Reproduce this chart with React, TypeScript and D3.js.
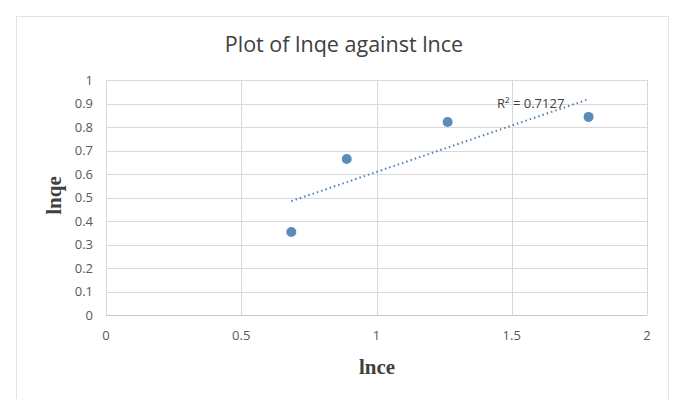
import React from "react";
import * as d3 from "d3";

const lnce: number[] = [0.685, 0.89, 1.263, 1.784];
const lnqe: number[] = [0.353, 0.664, 0.821, 0.843];
const xTicks: number[] = [0, 0.5, 1, 1.5, 2];
const yTicks: number[] = [0, 0.1, 0.2, 0.3, 0.4, 0.5, 0.6, 0.7, 0.8, 0.9, 1];
const titleText = "Plot of lnqe against lnce";
const xTitle = "lnce";
const yTitle = "lnqe";
const r2Label = "R² = 0.7127";

const W = 675;
const H = 399;
const M = { left: 106, right: 647, top: 80, bottom: 315 };

export default function App() {
  const x = d3.scaleLinear().domain([0, 2]).range([M.left, M.right]);
  const y = d3.scaleLinear().domain([0, 1]).range([M.bottom, M.top]);

  const mx = d3.mean(lnce) as number;
  const my = d3.mean(lnqe) as number;
  let sxy = 0;
  let sxx = 0;
  lnce.forEach((v, i) => {
    sxy += (v - mx) * (lnqe[i] - my);
    sxx += (v - mx) * (v - mx);
  });
  const slope = sxy / sxx;
  const icpt = my - slope * mx;
  const [x0, x1] = d3.extent(lnce) as [number, number];
  const trend = d3
    .line<number>()
    .x((d) => x(d))
    .y((d) => y(icpt + slope * d))([x0, x1]);

  const tickFont = "'Open Sans', 'Liberation Sans', sans-serif";
  const serif = "'Liberation Serif', 'DejaVu Serif', serif";

  return (
    <svg
      width={W}
      height={H}
      style={{ position: "absolute", left: 0, top: 0, background: "#fff" }}
    >
      <rect x={0} y={0} width={W} height={H} fill="#fff" />
      <rect x={16.5} y={16.5} width={652} height={H + 10} fill="none" stroke="#e3e3e3" strokeWidth={1} />
      <text
        x={344}
        y={52}
        textAnchor="middle"
        fontFamily={tickFont}
        fontSize={21.5}
        fill="#404040"
      >
        {titleText}
      </text>
      {yTicks.map((t) => (
        <g key={"y" + t}>
          <line x1={M.left} x2={M.right} y1={Math.round(y(t)) + 0.5} y2={Math.round(y(t)) + 0.5} stroke="#d9d9d9" />
          <text x={93} y={y(t) + 4.5} textAnchor="end" fontFamily={tickFont} fontSize={13} fill="#595959">
            {t}
          </text>
        </g>
      ))}
      {xTicks.map((t) => (
        <g key={"x" + t}>
          <line x1={Math.round(x(t)) + 0.5} x2={Math.round(x(t)) + 0.5} y1={M.top} y2={M.bottom} stroke="#d9d9d9" />
          <text x={x(t)} y={340} textAnchor="middle" fontFamily={tickFont} fontSize={13} fill="#595959">
            {t}
          </text>
        </g>
      ))}
      <line x1={M.left} x2={M.right} y1={M.bottom + 0.5} y2={M.bottom + 0.5} stroke="#c8c8c8" />
      <path d={trend || ""} fill="none" stroke="#4f81b4" strokeWidth={2} strokeDasharray="1.5 3" />
      {lnce.map((v, i) => (
        <circle key={i} cx={x(v)} cy={y(lnqe[i])} r={5} fill="#5a8bbb" />
      ))}
      <text x={497} y={108} fontFamily={tickFont} fontSize={13} fill="#404040">
        {r2Label}
      </text>
      <text
        x={377}
        y={374}
        textAnchor="middle"
        fontFamily={serif}
        fontWeight="bold"
        fontSize={21}
        fill="#404040"
      >
        {xTitle}
      </text>
      <text
        transform={`translate(61,${(M.top + M.bottom) / 2 - 2}) rotate(-90)`}
        textAnchor="middle"
        fontFamily={serif}
        fontWeight="bold"
        fontSize={21}
        fill="#404040"
      >
        {yTitle}
      </text>
    </svg>
  );
}
